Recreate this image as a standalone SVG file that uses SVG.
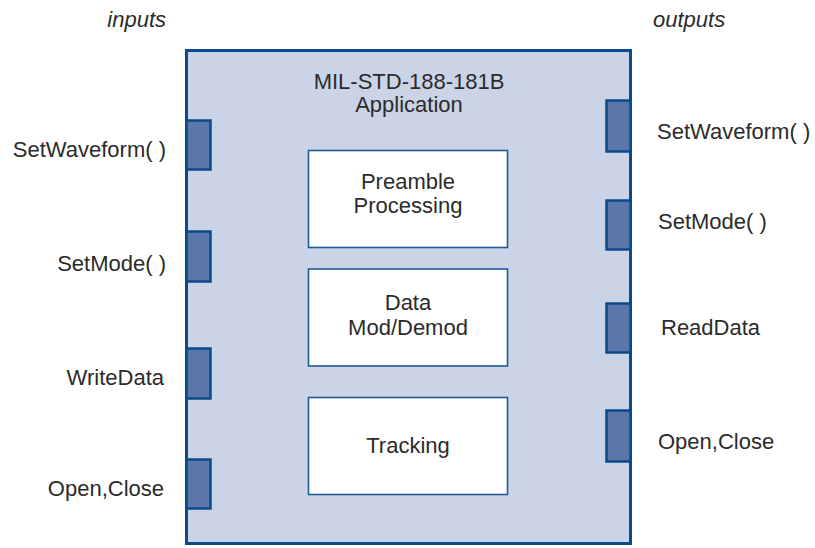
<svg xmlns="http://www.w3.org/2000/svg" width="815" height="548" viewBox="0 0 815 548">
<style>
text{font-family:"Liberation Sans","Open Sans",Arial,sans-serif;font-size:22px;fill:#2b2b2b}
.it{font-style:italic}
.l{text-anchor:end}
.c{text-anchor:middle}
.main{fill:#cbd3e6;stroke:#0b4a8b;stroke-width:3}
.port{fill:#5b76a8;stroke:#0b4a8b;stroke-width:2.5}
.box{fill:#ffffff;stroke:#1f5a95;stroke-width:1.6}
</style>
<rect width="815" height="548" fill="#ffffff"/>
<text class="it l" x="166" y="27">inputs</text>
<text class="it" x="653" y="27">outputs</text>
<g id="application">
<rect class="main" x="186.5" y="50.5" width="444" height="493"/>
<text class="c" x="409" y="89">MIL-STD-188-181B</text>
<text class="c" x="409" y="112">Application</text>
</g>
<g id="preamble">
<rect class="box" x="308.5" y="150.5" width="199" height="97"/>
<text class="c" x="408" y="189">Preamble</text>
<text class="c" x="408" y="213">Processing</text>
</g>
<g id="datamod">
<rect class="box" x="308.5" y="269" width="199" height="97"/>
<text class="c" x="408" y="310">Data</text>
<text class="c" x="408" y="335">Mod/Demod</text>
</g>
<g id="tracking">
<rect class="box" x="308.5" y="397.5" width="199" height="97"/>
<text class="c" x="408" y="453">Tracking</text>
</g>
<g id="in-setwaveform"><rect class="port" x="186.5" y="120.5" width="24" height="49"/><text class="l" x="166" y="157">SetWaveform( )</text></g>
<g id="in-setmode"><rect class="port" x="186.5" y="231.5" width="24" height="50"/><text class="l" x="166" y="271">SetMode( )</text></g>
<g id="in-writedata"><rect class="port" x="186.5" y="348.5" width="24" height="50"/><text class="l" x="164" y="385">WriteData</text></g>
<g id="in-openclose"><rect class="port" x="186.5" y="459.5" width="24" height="49"/><text class="l" x="164" y="496">Open,Close</text></g>
<g id="out-setwaveform"><rect class="port" x="606.5" y="100.5" width="24" height="51"/><text x="657" y="139">SetWaveform( )</text></g>
<g id="out-setmode"><rect class="port" x="606.5" y="200.5" width="24" height="49"/><text x="658" y="229">SetMode( )</text></g>
<g id="out-readdata"><rect class="port" x="606.5" y="303.5" width="24" height="49"/><text x="661" y="335">ReadData</text></g>
<g id="out-openclose"><rect class="port" x="606.5" y="410.5" width="24" height="51"/><text x="658" y="449">Open,Close</text></g>
<g id="connectors"></g>
</svg>
